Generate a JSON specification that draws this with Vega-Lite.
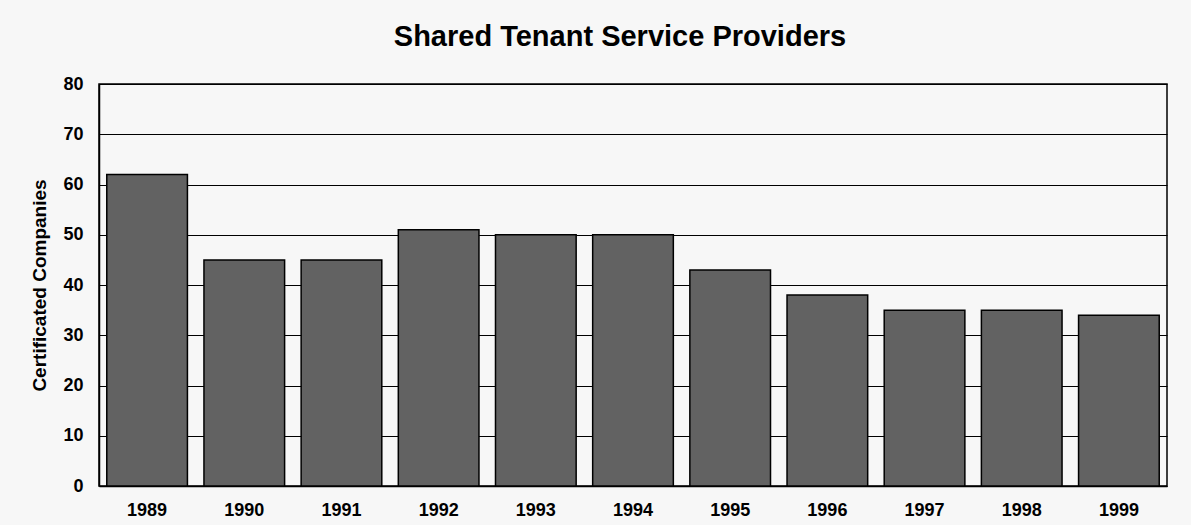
{
  "$schema": "https://vega.github.io/schema/vega-lite/v6.json",
  "width": 1068,
  "height": 402,
  "autosize": {"type": "none"},
  "padding": {"left": 99, "top": 84, "right": 24, "bottom": 39},
  "background": "#f7f7f7",
  "title": {
    "text": "Shared Tenant Service Providers",
    "font": "Liberation Sans",
    "fontSize": 29,
    "fontWeight": "bold",
    "color": "#000000",
    "anchor": "middle",
    "offset": 23,
    "dx": -13
  },
  "data": {
    "values": [
      {"year": "1989", "companies": 62},
      {"year": "1990", "companies": 45},
      {"year": "1991", "companies": 45},
      {"year": "1992", "companies": 51},
      {"year": "1993", "companies": 50},
      {"year": "1994", "companies": 50},
      {"year": "1995", "companies": 43},
      {"year": "1996", "companies": 38},
      {"year": "1997", "companies": 35},
      {"year": "1998", "companies": 35},
      {"year": "1999", "companies": 34}
    ]
  },
  "mark": {"type": "bar", "fill": "#626262", "stroke": "#000000", "strokeWidth": 1.5},
  "encoding": {
    "x": {
      "field": "year",
      "type": "ordinal",
      "scale": {"paddingInner": 0.17, "paddingOuter": 0.08},
      "axis": {
        "title": null,
        "labelAngle": 0,
        "labelFont": "Liberation Sans",
        "labelFontSize": 18,
        "labelFontWeight": "bold",
        "labelColor": "#000000",
        "labelPadding": 15,
        "ticks": false,
        "domainColor": "#000000",
        "domainWidth": 1.5
      }
    },
    "y": {
      "field": "companies",
      "type": "quantitative",
      "scale": {"domain": [0, 80]},
      "axis": {
        "title": "Certificated Companies",
        "titleFont": "Liberation Sans",
        "titleFontSize": 19,
        "titleFontWeight": "bold",
        "titleColor": "#000000",
        "titlePadding": 13,
        "values": [0, 10, 20, 30, 40, 50, 60, 70, 80],
        "labelFont": "Liberation Sans",
        "labelFontSize": 18,
        "labelFontWeight": "bold",
        "labelColor": "#000000",
        "labelPadding": 16,
        "ticks": false,
        "grid": true,
        "gridColor": "#000000",
        "gridWidth": 1,
        "gridOpacity": 1,
        "domainColor": "#000000",
        "domainWidth": 1.5
      }
    }
  },
  "config": {
    "view": {"stroke": "#000000", "strokeWidth": 1.5}
  }
}
